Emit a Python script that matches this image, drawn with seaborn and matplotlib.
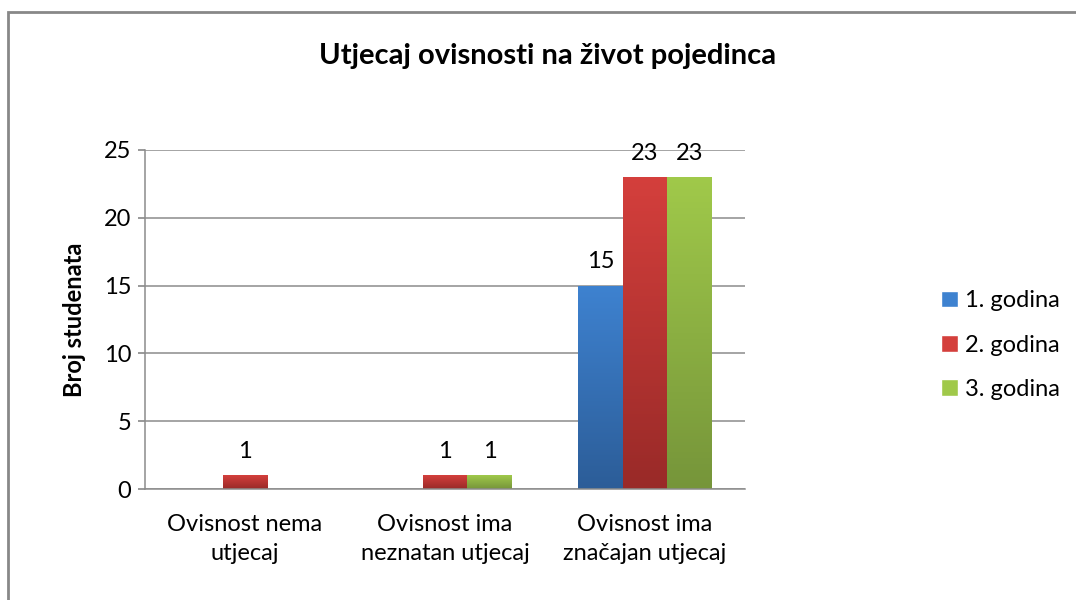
import numpy as np
import pandas as pd
import matplotlib
matplotlib.use("Agg")
import matplotlib.pyplot as plt
import seaborn as sns
from matplotlib.colors import LinearSegmentedColormap
from matplotlib.patches import Rectangle

# data
categories = ["Ovisnost nema\nutjecaj", "Ovisnost ima\nneznatan utjecaj", "Ovisnost ima\nznačajan utjecaj"]
series = ["1. godina", "2. godina", "3. godina"]
godina_1 = [0, 0, 15]
godina_2 = [1, 1, 23]
godina_3 = [0, 1, 23]
y_ticks = [0, 5, 10, 15, 20, 25]

df = pd.DataFrame({
    "kategorija": categories * 3,
    "godina": [s for s in series for _ in categories],
    "broj": godina_1 + godina_2 + godina_3,
})

# colours (top, bottom) of the gradient
grad = {
    "1. godina": ("#3E82D0", "#2C5D98"),
    "2. godina": ("#D43F3C", "#992A28"),
    "3. godina": ("#A0C94A", "#76953A"),
}
palette = {k: v[0] for k, v in grad.items()}

sns.set_theme(style="white")
plt.rcParams["font.family"] = ["Lato", "DejaVu Sans"]
plt.rcParams["text.color"] = "black"

fig = plt.figure(figsize=(10.76, 6), dpi=100)
ax = fig.add_axes([0.1348, 0.185, 0.5576, 0.565])

sns.barplot(data=df, x="kategorija", y="broj", hue="godina", palette=palette,
            width=0.67, gap=0, ax=ax, legend=False, saturation=1)

ax.set_ylim(0, 25)
ax.set_xlim(-0.5, 2.5)
ax.set_yticks(y_ticks)
ax.yaxis.grid(True, color="#8c8c8c", linewidth=1.1)
ax.set_axisbelow(True)

# gradient fill + labels
for cont, name in zip(ax.containers, series):
    cmap = LinearSegmentedColormap.from_list(name, [grad[name][1], grad[name][0]])
    for bar in cont:
        h = bar.get_height()
        x0 = bar.get_x()
        w = bar.get_width()
        if h <= 0:
            bar.set_visible(False)
            continue
        bar.set_facecolor("none")
        bar.set_edgecolor("none")
        img = ax.imshow(np.linspace(0, 1, 100).reshape(-1, 1), cmap=cmap,
                        extent=[x0, x0 + w, 0, h], origin="lower",
                        aspect="auto", zorder=2)
        img.set_clip_path(bar)
        ax.text(x0 + w / 2, h + 1.0, f"{int(h)}", ha="center", va="bottom",
                fontsize=17, color="black")
ax.set_xlim(-0.5, 2.5)
ax.set_ylim(0, 25)

for s in ["top", "right"]:
    ax.spines[s].set_visible(False)
ax.spines["left"].set_color("#8c8c8c")
ax.spines["bottom"].set_color("#8c8c8c")
ax.spines["left"].set_linewidth(1.1)
ax.spines["bottom"].set_linewidth(1.1)

ax.tick_params(axis="y", left=True, length=5, color="#8c8c8c", labelsize=17, pad=5)
ax.tick_params(axis="x", bottom=False, labelsize=17, pad=12)
ax.set_xticks([0, 1, 2])
ax.set_xticklabels(categories, linespacing=1.5)
for lbl in ax.get_xticklabels() + ax.get_yticklabels():
    lbl.set_color("black")

ax.set_xlabel("")
ax.set_ylabel("Broj studenata", fontsize=17, fontweight="bold", labelpad=13,
              color="black")

fig.text(0.509, 0.907, "Utjecaj ovisnosti na život pojedinca", ha="center",
         va="center", fontsize=21, fontweight="bold", color="black")

# legend
handles = [Rectangle((0, 0), 1, 1, facecolor=grad[s][0]) for s in series]
leg = fig.legend(handles, series, loc="center left", bbox_to_anchor=(0.855, 0.425),
                 frameon=False, fontsize=17, handlelength=0.7, handleheight=0.7,
                 handletextpad=0.3, labelspacing=0.98)
for t in leg.get_texts():
    t.set_color("black")

# outer frame
fig.patches.append(Rectangle((8 / 1076, -0.1), 1.2, 1.1 - 12 / 600,
                             transform=fig.transFigure, fill=False,
                             edgecolor="#888888", linewidth=2))

fig.savefig("out.png", dpi=100)
